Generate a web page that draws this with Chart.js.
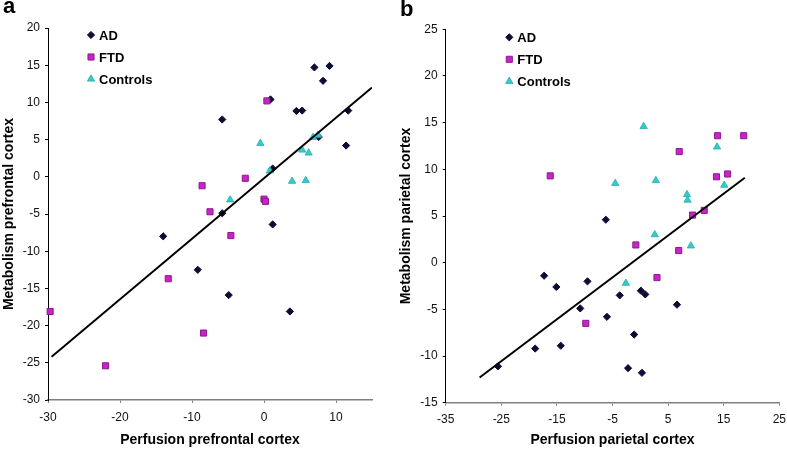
<!DOCTYPE html>
<html>
<head>
<meta charset="utf-8">
<script src="https://cdn.jsdelivr.net/npm/chart.js@4.4.1/dist/chart.umd.min.js"></script>
<style>
  html, body { margin: 0; padding: 0; background: #fff; }
  #wrap { position: relative; width: 787px; height: 450px; }
  .panel { position: absolute; top: 0; height: 450px; }
  #panel-a { left: 0; width: 393px; }
  #panel-b { left: 393px; width: 394px; }
</style>
</head>
<body>
<div id="wrap">
  <div class="panel" id="panel-a"><canvas id="chart-a"></canvas></div>
  <div class="panel" id="panel-b"><canvas id="chart-b"></canvas></div>
</div>
<script>
// panel a - prefrontal cortex
const adPerfA = [-5.8, 0.9, 7.0, 9.1, 8.2, 4.5, 5.3, 11.7, 11.4, 7.6, 1.2, -5.8, 1.2, -14.0, -9.2, -4.9, 3.6];
const adMetA = [7.7, 10.4, 14.7, 14.9, 12.9, 8.85, 8.9, 8.9, 4.2, 5.35, 1.1, -4.9, -6.4, -8.0, -12.5, -15.9, -18.1];
const ftdPerfA = [0.4, -8.6, -2.6, -7.5, 0.0, 0.2, -4.6, -13.3, -29.7, -8.4, -22.0];
const ftdMetA = [10.2, -1.2, -0.2, -4.7, -3.0, -3.3, -7.9, -13.7, -18.1, -21.0, -25.4];
const ctlPerfA = [-0.5, -4.7, 0.8, 3.9, 5.8, 5.3, 6.2, 6.8, 7.5];
const ctlMetA = [4.5, -3.1, 0.8, -0.6, -0.5, 3.6, 3.2, 5.3, 5.6];
const trendPerfA = [-29.5, 15];
const trendMetA = [-24.2, 12.0];
const xTicksA = [-30, -20, -10, 0, 10];
const yTicksA = [-30, -25, -20, -15, -10, -5, 0, 5, 10, 15, 20];

// panel b - parietal cortex
const adPerfB = [-6.2, -17.3, -15.1, -9.5, -10.8, -6.0, -3.7, 0.1, 0.9, 6.6, -1.1, -18.9, -14.3, -25.6, -2.2, 0.3];
const adMetB = [4.6, -1.4, -2.6, -2.0, -4.9, -5.8, -3.5, -3.0, -3.4, -4.5, -7.7, -9.2, -8.9, -11.1, -11.3, -11.8];
const ftdPerfB = [-16.2, 7.0, 13.9, 18.6, 13.7, 15.7, 9.4, 11.5, -0.8, 6.9, 3.0, -9.8];
const ftdMetB = [9.3, 11.9, 13.6, 13.6, 9.2, 9.5, 5.1, 5.6, 1.9, 1.3, -1.6, -6.5];
const ctlPerfB = [0.6, 13.8, -4.5, 2.8, 8.4, 8.5, 15.1, 2.6, 9.1, -2.6];
const ctlMetB = [14.6, 12.4, 8.5, 8.8, 7.3, 6.7, 8.3, 3.0, 1.8, -2.2];
const trendPerfB = [-28.9, 18.8];
const trendMetB = [-12.3, 9.1];
const xTicksB = [-35, -25, -15, -5, 5, 15, 25];
const yTicksB = [-15, -10, -5, 0, 5, 10, 15, 20, 25];

const groupNames = ['AD', 'FTD', 'Controls'];

Chart.defaults.font.family = '"Liberation Sans", Arial, sans-serif';
Chart.defaults.color = '#111';

function toPoints(xs, ys) {
    return xs.map((x, i) => ({ x: x, y: ys[i] }));
}

// legend drawn inside the plot, like the original figure
const insideLegend = {
    id: 'insideLegend',
    afterDraw(chart, args, opts) {
        const ctx = chart.ctx;
        ctx.save();
        ctx.font = 'bold 13px "Liberation Sans", Arial, sans-serif';
        ctx.textBaseline = 'middle';
        ctx.textAlign = 'left';
        let y = opts.y;
        chart.data.datasets.forEach(ds => {
            if (ds.noLegend) return;
            ctx.fillStyle = ds.backgroundColor;
            ctx.strokeStyle = ds.borderColor;
            ctx.lineWidth = ds.borderWidth;
            Chart.helpers.drawPoint(ctx, {
                pointStyle: ds.pointStyle,
                radius: ds.pointRadius,
                borderWidth: ds.borderWidth,
                rotation: 0
            }, opts.x, y);
            ctx.fillStyle = '#000';
            ctx.fillText(ds.label, opts.x + 8, y + 1);
            y += opts.rowHeight;
        });
        // panel letter
        ctx.font = 'bold 22px "Liberation Sans", Arial, sans-serif';
        ctx.textBaseline = 'alphabetic';
        ctx.fillText(opts.letter, opts.letterX, opts.letterY);
        ctx.restore();
    }
};

function makeChart(canvasId, cfg) {
    const datasets = [
        {
            label: groupNames[0],
            data: toPoints(cfg.ad[0], cfg.ad[1]),
            pointStyle: 'rectRot',
            pointRadius: 3.6,
            backgroundColor: '#0c0c34',
            borderColor: '#0c0c34',
            borderWidth: 1,
            clip: false,
            order: 3
        },
        {
            label: groupNames[1],
            data: toPoints(cfg.ftd[0], cfg.ftd[1]),
            pointStyle: 'rect',
            pointRadius: 4.3,
            backgroundColor: '#cc22cc',
            borderColor: '#8a1a8a',
            borderWidth: 1,
            clip: false,
            order: 2
        },
        {
            label: groupNames[2],
            data: toPoints(cfg.ctl[0], cfg.ctl[1]),
            pointStyle: 'triangle',
            pointRadius: 4.2,
            backgroundColor: '#33cccc',
            borderColor: '#2aabab',
            borderWidth: 0.8,
            clip: false,
            order: 1
        },
        {
            label: 'trend',
            noLegend: true,
            data: toPoints(cfg.trend[0], cfg.trend[1]),
            showLine: true,
            pointRadius: 0,
            borderColor: '#000',
            borderWidth: 2,
            order: 0
        }
    ];

    return new Chart(document.getElementById(canvasId), {
        type: 'scatter',
        data: { datasets: datasets },
        options: {
            responsive: true,
            maintainAspectRatio: false,
            animation: false,
            events: [],
            layout: { padding: cfg.padding },
            plugins: {
                legend: { display: false },
                tooltip: { enabled: false },
                insideLegend: cfg.legend
            },
            scales: {
                x: {
                    type: 'linear',
                    min: cfg.xRange[0],
                    max: cfg.xRange[1],
                    afterBuildTicks: s => { s.ticks = cfg.xTicks.map(v => ({ value: v })); },
                    afterFit: s => { s.height = cfg.xHeight; s.paddingLeft = 0; s.paddingRight = 0; },
                    grid: { display: true, drawOnChartArea: false, drawTicks: true, tickLength: 3, color: '#808080', lineWidth: 1 },
                    border: { display: true, color: '#808080', width: 1.5 },
                    ticks: { font: { size: 12 }, color: '#111', padding: 7, maxRotation: 0, autoSkip: false },
                    title: {
                        display: true,
                        text: cfg.xTitle,
                        color: '#000',
                        font: { size: 14, weight: 'bold' },
                        padding: { top: 0, bottom: 1.6 }
                    }
                },
                y: {
                    type: 'linear',
                    min: cfg.yRange[0],
                    max: cfg.yRange[1],
                    afterBuildTicks: s => { s.ticks = cfg.yTicks.map(v => ({ value: v })); },
                    afterFit: s => { s.width = cfg.yWidth; s.paddingTop = 0; s.paddingBottom = 0; },
                    grid: { display: true, drawOnChartArea: false, drawTicks: true, tickLength: 3, color: '#000', lineWidth: 1 },
                    border: { display: true, color: '#000', width: 1 },
                    ticks: { font: { size: 12 }, color: '#111', padding: 5, autoSkip: false },
                    title: {
                        display: true,
                        text: cfg.yTitle,
                        color: '#000',
                        font: { size: 14, weight: 'bold' },
                        padding: { top: cfg.yTitlePad, bottom: 0 }
                    }
                }
            }
        },
        plugins: [insideLegend]
    });
}

document.addEventListener('DOMContentLoaded', () => {
    makeChart('chart-a', {
        ad: [adPerfA, adMetA],
        ftd: [ftdPerfA, ftdMetA],
        ctl: [ctlPerfA, ctlMetA],
        trend: [trendPerfA, trendMetA],
        xRange: [-30, 15],
        yRange: [-30, 20],
        xTicks: xTicksA,
        yTicks: yTicksA,
        xTitle: 'Perfusion prefrontal cortex',
        yTitle: 'Metabolism prefrontal cortex',
        padding: { top: 28, right: 21, bottom: 0, left: 0 },
        yWidth: 48,
        xHeight: 50,
        yTitlePad: 0.6,
        legend: { x: 91, y: 35, rowHeight: 22, letter: 'a', letterX: 3, letterY: 13 }
    });

    makeChart('chart-b', {
        ad: [adPerfB, adMetB],
        ftd: [ftdPerfB, ftdMetB],
        ctl: [ctlPerfB, ctlMetB],
        trend: [trendPerfB, trendMetB],
        xRange: [-35, 25],
        yRange: [-15, 25],
        xTicks: xTicksB,
        yTicks: yTicksB,
        xTitle: 'Perfusion parietal cortex',
        yTitle: 'Metabolism parietal cortex',
        padding: { top: 29.3, right: 7.7, bottom: 0, left: 0 },
        yWidth: 52.7,
        xHeight: 47.3,
        yTitlePad: 4.6,
        legend: { x: 116.3, y: 37.3, rowHeight: 22, letter: 'b', letterX: 7, letterY: 16 }
    });
});
</script>
</body>
</html>
